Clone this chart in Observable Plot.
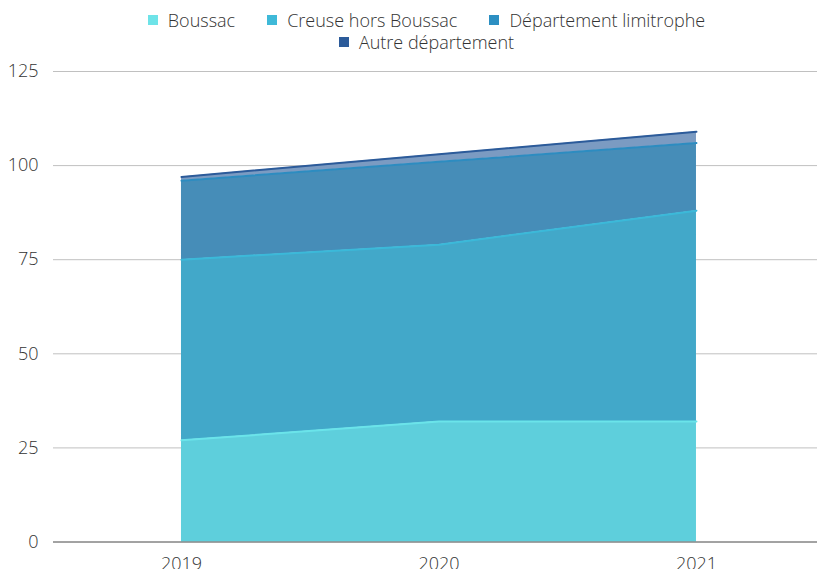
<!DOCTYPE html>
<html>
<head>
<meta charset="utf-8">
<script src="https://cdn.jsdelivr.net/npm/d3@7"></script>
<script src="https://cdn.jsdelivr.net/npm/@observablehq/plot@0.6"></script>
<style>
  body { margin: 0; background: #fff; font-family: "Open Sans", sans-serif; }
  #legend { height: 56px; width: 817px; box-sizing: border-box; padding-top: 9px; padding-left: 36px; }
  .row { display: flex; justify-content: center; height: 22px; }
  .item { display: flex; align-items: center; margin: 0 16px; font-size: 18px; font-weight: 300; color: #333; line-height: 22px; }
  .sw { width: 10px; height: 10px; margin-right: 10px; }
  #chart svg { display: block; }
</style>
</head>
<body>
<div id="legend"></div>
<div id="chart"></div>
<script>
const years = [2019, 2020, 2021];
const series = ["Boussac", "Creuse hors Boussac", "Département limitrophe", "Autre département"];
const boussac = [27, 32, 32];
const creuse = [48, 47, 56];
const limitrophe = [21, 22, 18];
const autre = [1, 2, 3];
const yTicks = [0, 25, 50, 75, 100, 125];
const fillColors = ["#5ecfdc", "#42a8c9", "#468db8", "#7b9bc2"];
const lineColors = ["#6ae4ea", "#3bb9d9", "#2d8cc0", "#2c5b9a"];
const legendColors = ["#6ee3e8", "#3fb9d8", "#2c8fc2", "#2c5b9a"];

const values = [boussac, creuse, limitrophe, autre];
const data = [];
series.forEach((s, i) => years.forEach((y, j) => data.push({year: y, series: s, value: values[i][j]})));

// legend
const legend = document.getElementById("legend");
[[0, 1, 2], [3]].forEach(idx => {
  const row = document.createElement("div");
  row.className = "row";
  idx.forEach(i => {
    const it = document.createElement("div");
    it.className = "item";
    it.innerHTML = `<span class="sw" style="background:${legendColors[i]}"></span>${series[i]}`;
    row.appendChild(it);
  });
  legend.appendChild(row);
});

const chart = Plot.plot({
  width: 817,
  height: 513,
  marginTop: 15,
  marginBottom: 27.5,
  marginLeft: 53,
  marginRight: 0,
  style: {fontFamily: "Open Sans, sans-serif", fontSize: "18px", fontWeight: 300, color: "#333", background: "#fff"},
  x: {domain: [2018.503, 2021.47], ticks: years, tickFormat: "d", tickSize: 0, tickPadding: 15, label: null},
  y: {domain: [0, 125], ticks: yTicks, tickSize: 0, tickPadding: 15, label: null},
  color: {domain: series, range: fillColors},
  marks: [
    Plot.gridY(yTicks, {stroke: "#c0c0c0", strokeOpacity: 1, strokeWidth: 1}),
    Plot.areaY(data, Plot.stackY({x: "year", y: "value", z: "series", fill: "series", fillOpacity: 1})),
    Plot.lineY(data, Plot.stackY2({x: "year", y: "value", z: "series", stroke: d => lineColors[series.indexOf(d.series)], strokeWidth: 2})),
    Plot.ruleY([0], {stroke: "#666", strokeWidth: 1}),
    Plot.axisY({ticks: yTicks, tickSize: 0, tickPadding: 15, fill: "#333", fontSize: 18}),
    Plot.axisX({ticks: years, tickFormat: "d", tickSize: 0, tickPadding: 15, fill: "#333", fontSize: 18})
  ]
});
document.getElementById("chart").appendChild(chart);
</script>
</body>
</html>
